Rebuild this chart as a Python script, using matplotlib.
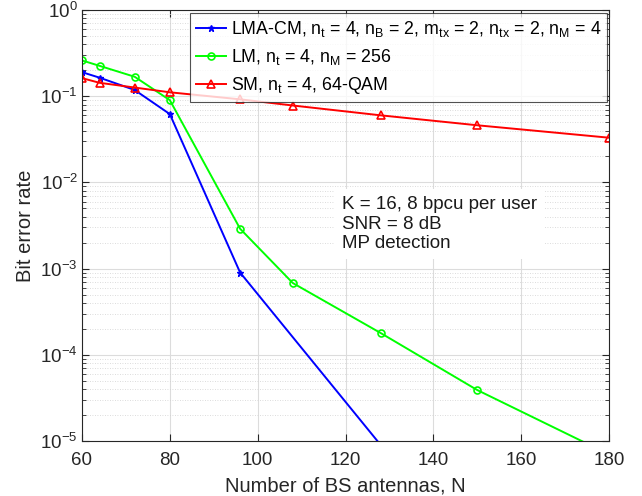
import matplotlib
matplotlib.use("Agg")
import matplotlib.pyplot as plt
import numpy as np
from matplotlib.ticker import LogLocator

plt.rcParams['font.family'] = ['Liberation Sans', 'DejaVu Sans']
plt.rcParams['mathtext.default'] = 'regular'

# Data
n_lma = [60, 64, 72, 80, 96, 128]
ber_lma = [0.19, 0.164, 0.118, 0.062, 9.0e-4, 9.0e-6]

n_lm = [60, 64, 72, 80, 96, 108, 128, 150, 180]
ber_lm = [0.26, 0.225, 0.168, 0.090, 2.9e-3, 6.8e-4, 1.79e-4, 3.9e-5, 7.0e-6]

n_sm = [60, 64, 72, 80, 96, 108, 128, 150, 180]
ber_sm = [0.162, 0.143, 0.126, 0.111, 0.092, 0.078, 0.060, 0.046, 0.033]

labels = [
    r'LMA-CM, $n_t$ = 4, $n_B$ = 2, $m_{tx}$ = 2, $n_{tx}$ = 2, $n_M$ = 4',
    r'LM, $n_t$ = 4, $n_M$ = 256',
    r'SM, $n_t$ = 4, 64-QAM',
]
xticks = [60, 80, 100, 120, 140, 160, 180]

fig = plt.figure(figsize=(6.42, 4.96), dpi=100)
ax = fig.add_axes([82/642, 1-441/496, (609-82)/642, (441-10)/496])

ax.semilogy(n_lma, ber_lma, color=(0, 0, 1), marker='*', ms=5, lw=1.4,
            mfc=(0, 0, 1), label=labels[0])
ax.semilogy(n_lm, ber_lm, color=(0, 1, 0), marker='o', ms=5, lw=1.4,
            mfc='none', mew=1.2, label=labels[1])
ax.semilogy(n_sm, ber_sm, color=(1, 0, 0), marker='^', ms=6, lw=1.4,
            mfc='none', mew=1.2, label=labels[2])

ax.set_xlim(60, 180)
ax.set_ylim(1e-5, 1)
ax.set_xticks(xticks)
ax.yaxis.set_major_locator(LogLocator(base=10, numticks=10))
ax.yaxis.set_minor_locator(LogLocator(base=10, subs=np.arange(2, 10), numticks=20))

ax.grid(True, which='major', color='#dcdcdc', lw=0.8, ls='-')
ax.grid(True, which='minor', axis='y', color='#d0d0d0', lw=0.6, ls=(0, (1, 2)))
ax.set_axisbelow(True)

ax.tick_params(which='both', direction='in', top=True, right=True,
               labelsize=13.5, colors='#262626')
ax.tick_params(axis='x', which='major', pad=8)
ax.tick_params(axis='y', which='major', pad=3)
ax.tick_params(which='major', length=5)
ax.tick_params(which='minor', length=3)
for sp in ax.spines.values():
    sp.set_color('#262626')
    sp.set_linewidth(0.8)

ax.set_xlabel('Number of BS antennas, N', fontsize=14.5, color='#262626', labelpad=5)
ax.set_ylabel('Bit error rate', fontsize=14.5, color='#262626', labelpad=4)

leg = ax.legend(loc='upper right', bbox_to_anchor=(0.997, 0.993), fontsize=12.8,
                frameon=True, fancybox=False, edgecolor='#262626',
                handlelength=1.7, handletextpad=0.25, borderpad=0.35,
                labelspacing=0.45, borderaxespad=0.0)
leg.get_frame().set_linewidth(0.8)

ax.text(0.493, 0.503, 'K = 16, 8 bpcu per user\nSNR = 8 dB\nMP detection',
        transform=ax.transAxes, fontsize=13.5, color='#1a1a1a',
        ha='left', va='center', linespacing=1.2,
        bbox=dict(facecolor='white', edgecolor='none', pad=5))

fig.savefig('out.png', dpi=100)
